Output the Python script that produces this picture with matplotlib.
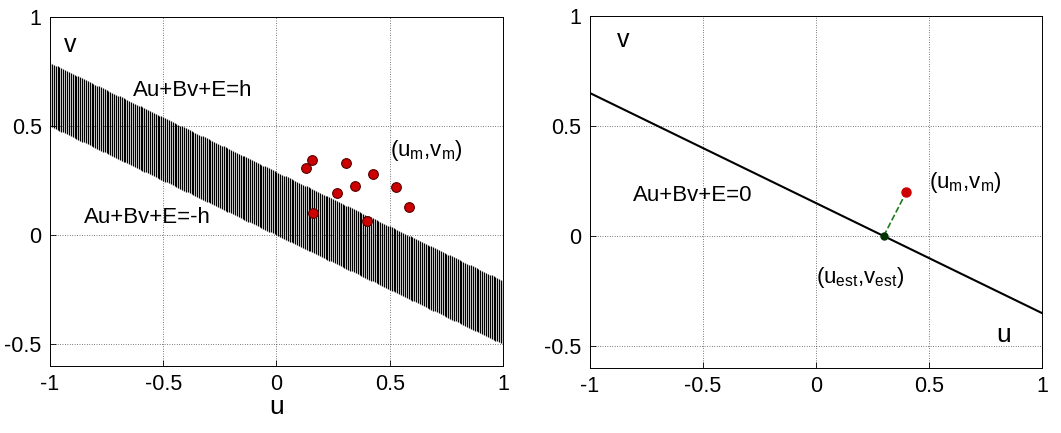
import numpy as np
import matplotlib
matplotlib.use('Agg')
import matplotlib.pyplot as plt

plt.rcParams['font.family'] = ['Liberation Sans', 'DejaVu Sans']
plt.rcParams['mathtext.fontset'] = 'custom'
plt.rcParams['mathtext.rm'] = 'Liberation Sans'

# line Au+Bv+E=0 -> v = (rhs - E - A*u)/B
A, B = 0.5, 1.0
E_left = -0.145
h = 0.145
E_right = -0.15

# measured points (left panel)
um = [0.156, 0.131, 0.305, 0.424, 0.346, 0.268, 0.529, 0.586, 0.163, 0.401]
vm = [0.345, 0.310, 0.333, 0.281, 0.227, 0.193, 0.222, 0.129, 0.101, 0.066]

# right panel: one measurement and its estimate on the line
um_r, vm_r = 0.4, 0.2
uest, vest = 0.3, 0.0

ticks_x = [-1, -0.5, 0, 0.5, 1]
ticks_x_lab = ['-1', '-0.5', '0', '0.5', '1']
ticks_y = [-0.5, 0, 0.5, 1]
ticks_y_lab = ['-0.5', '0', '0.5', '1']


def line_v(u, E, rhs=0.0):
    return (rhs - E - A * np.asarray(u)) / B


def style_axes(ax):
    ax.set_xlim(-1, 1)
    ax.set_ylim(-0.6, 1)
    ax.set_xticks(ticks_x)
    ax.set_xticklabels(ticks_x_lab)
    ax.set_yticks(ticks_y)
    ax.set_yticklabels(ticks_y_lab)
    ax.tick_params(direction='in', labelsize=15.5, length=4, width=0.6, pad=6)
    ax.grid(True, linestyle=(0, (1, 2.5)), color='black', linewidth=0.5)
    for s in ax.spines.values():
        s.set_linewidth(0.7)


fig = plt.figure(figsize=(10.61, 4.33), dpi=100)
ax1 = fig.add_axes([0.0471, 0.1547, 0.427, 0.806])
ax2 = fig.add_axes([0.556, 0.150, 0.426, 0.813])

# left: band between Au+Bv+E=-h and Au+Bv+E=h
uh = np.linspace(-1, 1, 241)
ax1.vlines(uh, line_v(uh, E_left, -h), line_v(uh, E_left, h), colors='black', linewidth=0.9)
ax1.plot(um, vm, 'o', markerfacecolor='#cc0000', markeredgecolor='#550000',
         markersize=7, markeredgewidth=0.8)
style_axes(ax1)
ax1.text(-0.94, 0.87, 'v', fontsize=18, ha='left', va='center')
ax1.text(-0.37, 0.663, 'Au+Bv+E=h', fontsize=16, ha='center', va='center')
ax1.text(-0.57, 0.08, 'Au+Bv+E=-h', fontsize=16, ha='center', va='center')
ax1.text(0.5, 0.39, r'(u$_\mathregular{m}$,v$_\mathregular{m}$)', fontsize=16,
         ha='left', va='center')
ax1.set_xlabel('u', fontsize=19, labelpad=0)

# right: single line, projection of measurement
ul = np.array([-1, 1])
ax2.plot(ul, line_v(ul, E_right), color='black', linewidth=1.5)
ax2.plot([uest, um_r], [vest, vm_r], '--', color='#1f7a1f', linewidth=1.2)
ax2.plot(um_r, vm_r, 'o', markerfacecolor='#cc0000', markeredgecolor='#cc0000',
         markersize=6.5)
ax2.plot(uest, vest, 'o', markerfacecolor='#003300', markeredgecolor='#003300',
         markersize=5)
style_axes(ax2)
ax2.text(-0.88, 0.89, 'v', fontsize=18, ha='left', va='center')
ax2.text(-0.81, 0.185, 'Au+Bv+E=0', fontsize=16, ha='left', va='center')
ax2.text(0.5, 0.245, r'(u$_\mathregular{m}$,v$_\mathregular{m}$)', fontsize=16,
         ha='left', va='center')
ax2.text(0.0, -0.19, r'(u$_\mathregular{est}$,v$_\mathregular{est}$)', fontsize=16,
         ha='left', va='center')
ax2.text(0.8, -0.45, 'u', fontsize=19, ha='left', va='center')

fig.savefig('out.png', dpi=100)
